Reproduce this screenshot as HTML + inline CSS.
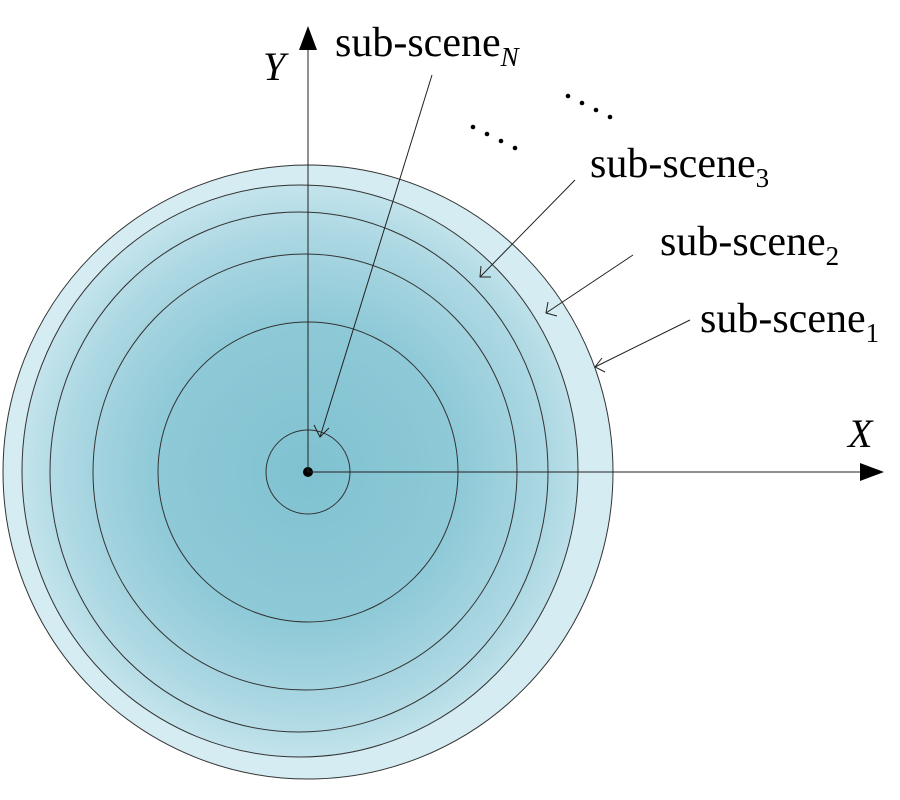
<!DOCTYPE html>
<html><head><meta charset="utf-8"><style>body{margin:0;background:#fff}svg{display:block}</style></head><body>
<svg width="900" height="800" viewBox="0 0 900 800" xmlns="http://www.w3.org/2000/svg" font-family="Liberation Serif, serif">
<defs>
<radialGradient id="g" cx="308" cy="472" r="300" gradientUnits="userSpaceOnUse">
<stop offset="0" stop-color="#80c2d1"/>
<stop offset="0.5" stop-color="#8ec9d7"/>
<stop offset="0.8" stop-color="#acd8e3"/>
<stop offset="1" stop-color="#cae7ee"/>
</radialGradient>
</defs>
<ellipse cx="308" cy="472" rx="305" ry="307" fill="#d4ecf2" stroke="#333" stroke-width="1"/>
<ellipse cx="300" cy="471" rx="278" ry="286" fill="url(#g)" stroke="#333" stroke-width="1"/>
<ellipse cx="299" cy="472" rx="249" ry="260" fill="url(#g)" stroke="#333" stroke-width="1"/>
<ellipse cx="305" cy="472" rx="212" ry="218" fill="url(#g)" stroke="#333" stroke-width="1"/>
<ellipse cx="308" cy="472" rx="150" ry="150" fill="url(#g)" stroke="#333" stroke-width="1"/>
<circle cx="308" cy="472" r="42" fill="none" stroke="#333" stroke-width="1"/>
<circle cx="308" cy="472" r="5" fill="#000"/>
<g stroke="#222" stroke-width="1">
<line x1="308" y1="472" x2="308" y2="45"/>
<line x1="308" y1="472" x2="862" y2="472"/>
<line x1="690" y1="320" x2="595" y2="367"/>
<line x1="633" y1="255" x2="546" y2="313"/>
<line x1="575" y1="180" x2="480" y2="277"/>
<line x1="432" y1="75" x2="320" y2="437"/>
<polyline points="605,372 595,367 602,358" fill="none"/>
<polyline points="557,316 546,313 548,302" fill="none"/>
<polyline points="491,277 480,277 481,266" fill="none"/>
<polyline points="314,425 320,437 329,428" fill="none"/>
</g>
<polygon points="308,26 299,50 317,50" fill="#000"/>
<polygon points="884,472 860,463 860,481" fill="#000"/>
<text x="263" y="80" font-size="40" font-style="italic">Y</text>
<text x="848" y="447" font-size="40" font-style="italic">X</text>
<text x="335" y="56" font-size="42">sub-scene<tspan font-size="27" font-style="italic" dy="10">N</tspan></text>
<text x="590" y="177" font-size="42">sub-scene<tspan font-size="27" dy="10">3</tspan></text>
<text x="660" y="255" font-size="42">sub-scene<tspan font-size="27" dy="10">2</tspan></text>
<text x="700" y="332" font-size="42">sub-scene<tspan font-size="27" dy="10">1</tspan></text>
<g fill="#000">
<circle cx="473" cy="127" r="2.3"/><circle cx="487" cy="134" r="2.3"/><circle cx="501" cy="141" r="2.3"/><circle cx="515" cy="148" r="2.3"/>
<circle cx="568" cy="96" r="2.3"/><circle cx="582" cy="103" r="2.3"/><circle cx="596" cy="110" r="2.3"/><circle cx="610" cy="117" r="2.3"/>
</g>
</svg>
</body></html>
